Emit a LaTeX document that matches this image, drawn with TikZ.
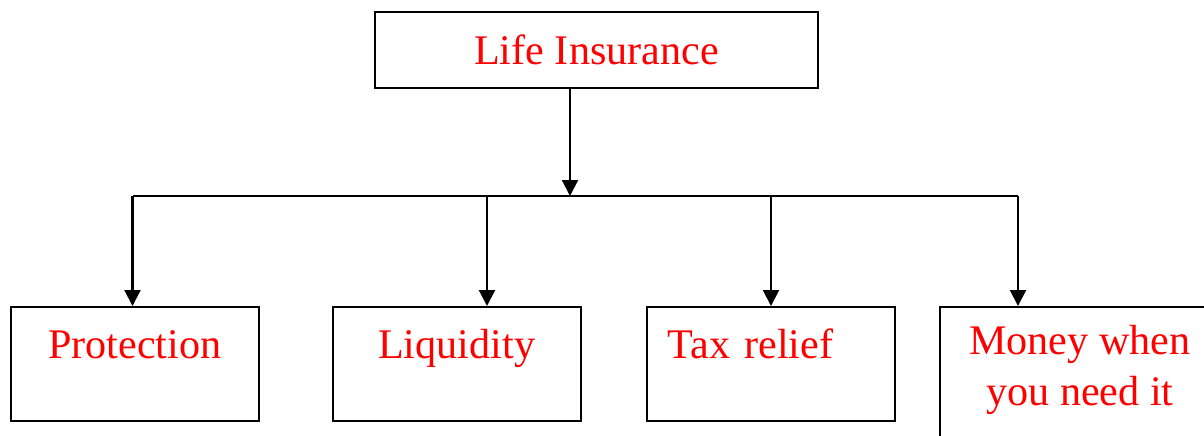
\documentclass[tikz,border=0pt]{standalone}
\usepackage{fontspec}
\setmainfont{Liberation Serif}
\usetikzlibrary{arrows.meta}

\begin{document}
\begin{tikzpicture}[x=0.02cm,y=-0.02cm,
  box/.style={draw,line width=1.1pt,text=red,inner sep=0pt,
    font=\fontsize{24}{29.5}\selectfont},
  leaf/.style={box,anchor=north,minimum width=4.96cm,
    text height=1.04cm,text depth=1.24cm},
  bar/.style={line width=0.9pt},
  arr/.style={line width=1.2pt,-{Triangle[width=0.32cm,length=0.32cm]}}]
  \useasboundingbox (0,0) rectangle (1204,436);

  \node[box,minimum width=8.88cm,minimum height=1.52cm] (life) at (596.5,50) {Life Insurance};

  \node[leaf] (prot) at (134.7,306) {Protection};
  \node[leaf] (liq) at (456.7,306) {Liquidity};
  \node[leaf,text width=4.12cm,align=left,inner xsep=0.42cm] (tax) at (770.7,306) {Tax relief};
  \node[leaf,minimum width=5.6cm,align=center,text height=1.98cm,text depth=0.9cm] (money) at (1080,306)
    {Money when\\you need it};

  \coordinate (hub) at (570,196);
  \coordinate (b1) at (132.5,196);
  \coordinate (b2) at (487,196);
  \coordinate (b3) at (771,196);
  \coordinate (b4) at (1018,196);

  \draw[arr] (life.south -| hub) -- (hub);
  \draw[bar] (b1) -- (b4);
  \draw[arr] (b1) -- (b1 |- prot.north);
  \draw[arr] (b2) -- (b2 |- liq.north);
  \draw[arr] (b3) -- (b3 |- tax.north);
  \draw[arr] (b4) -- (b4 |- money.north);
\end{tikzpicture}
\end{document}
